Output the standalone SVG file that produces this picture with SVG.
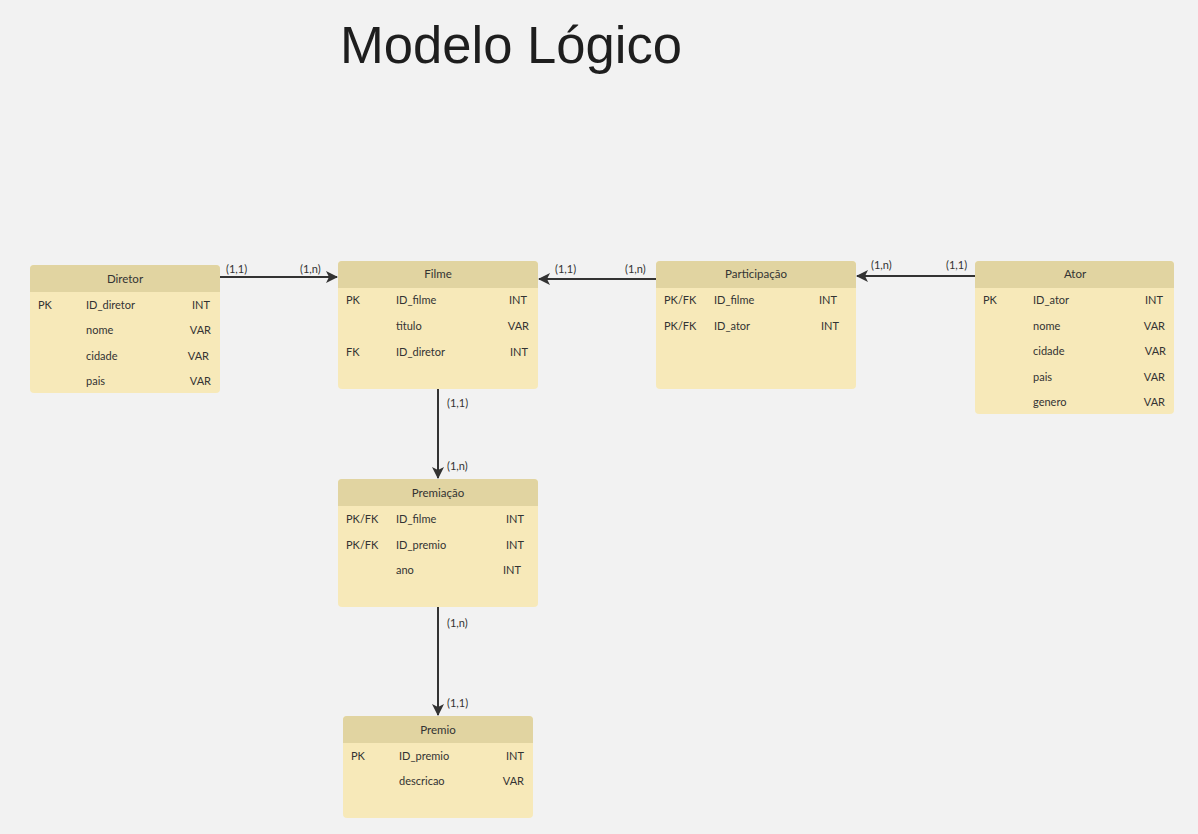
<svg xmlns="http://www.w3.org/2000/svg" width="1198" height="834" viewBox="0 0 1198 834">
<defs>
<style>
.bg{fill:#f2f2f2}
.body{fill:#f7e9b9}
.head{fill:#e1d4a1}
.t{font-family:Lato,"Open Sans",sans-serif;font-size:11px;fill:#333}
.h{font-family:Lato,"Open Sans",sans-serif;font-size:11.5px;fill:#333;text-anchor:middle}
.r{text-anchor:end}
.lbl{font-family:Lato,"Open Sans",sans-serif;font-size:11px;fill:#333}
.c{stroke:#333;stroke-width:2;fill:none}
.title{font-family:"Liberation Sans",Arial,sans-serif;font-size:52.6px;fill:#1e1e1e}
</style>
<marker id="arr" markerWidth="12" markerHeight="12" viewBox="0 0 12 12" refX="11" refY="6" orient="auto" markerUnits="userSpaceOnUse">
<path d="M0,0 L12,6 L0,12 L3,6 Z" fill="#333"/>
</marker>
</defs>
<rect class="bg" x="0" y="0" width="1198" height="834"/>
<text class="title" x="340" y="63" textLength="342" lengthAdjust="spacingAndGlyphs">Modelo Lógico</text>

<g id="connectors">
<line class="c" x1="220" y1="277" x2="337" y2="277" marker-end="url(#arr)"/>
<line class="c" x1="656" y1="279" x2="539" y2="279" marker-end="url(#arr)"/>
<line class="c" x1="975" y1="276" x2="857" y2="276" marker-end="url(#arr)"/>
<line class="c" x1="438" y1="389" x2="438" y2="478" marker-end="url(#arr)"/>
<line class="c" x1="438" y1="607" x2="438" y2="715" marker-end="url(#arr)"/>
<text class="lbl" x="226" y="273">(1,1)</text>
<text class="lbl" x="300" y="273">(1,n)</text>
<text class="lbl" x="555" y="273">(1,1)</text>
<text class="lbl" x="625" y="273">(1,n)</text>
<text class="lbl" x="871" y="269">(1,n)</text>
<text class="lbl" x="946" y="269">(1,1)</text>
<text class="lbl" x="447" y="407">(1,1)</text>
<text class="lbl" x="447" y="470">(1,n)</text>
<text class="lbl" x="447" y="627">(1,n)</text>
<text class="lbl" x="447" y="707">(1,1)</text>
</g>

<g id="diretor">
<rect class="body" x="30" y="265" width="190" height="128" rx="4"/>
<path class="head" d="M30,292 V269 Q30,265 34,265 H216 Q220,265 220,269 V292 Z"/>
<text class="h" x="125" y="283">Diretor</text>
<text class="t" x="38" y="309">PK</text><text class="t" x="86" y="309">ID_diretor</text><text class="t r" x="210" y="309">INT</text>
<text class="t" x="86" y="334">nome</text><text class="t r" x="211" y="334">VAR</text>
<text class="t" x="86" y="360">cidade</text><text class="t r" x="209" y="360">VAR</text>
<text class="t" x="86" y="385">pais</text><text class="t r" x="211" y="385">VAR</text>
</g>

<g id="filme">
<rect class="body" x="338" y="261" width="200" height="128" rx="4"/>
<path class="head" d="M338,288 V265 Q338,261 342,261 H534 Q538,261 538,265 V288 Z"/>
<text class="h" x="438" y="278">Filme</text>
<text class="t" x="346" y="304">PK</text><text class="t" x="396" y="304">ID_filme</text><text class="t r" x="527" y="304">INT</text>
<text class="t" x="396" y="330">titulo</text><text class="t r" x="529" y="330">VAR</text>
<text class="t" x="346" y="356">FK</text><text class="t" x="396" y="356">ID_diretor</text><text class="t r" x="528" y="356">INT</text>
</g>

<g id="participacao">
<rect class="body" x="656" y="261" width="200" height="128" rx="4"/>
<path class="head" d="M656,288 V265 Q656,261 660,261 H852 Q856,261 856,265 V288 Z"/>
<text class="h" x="756" y="278">Participação</text>
<text class="t" x="664" y="304">PK/FK</text><text class="t" x="714" y="304">ID_filme</text><text class="t r" x="837" y="304">INT</text>
<text class="t" x="664" y="330">PK/FK</text><text class="t" x="714" y="330">ID_ator</text><text class="t r" x="839" y="330">INT</text>
</g>

<g id="ator">
<rect class="body" x="975" y="261" width="199" height="153" rx="4"/>
<path class="head" d="M975,288 V265 Q975,261 979,261 H1170 Q1174,261 1174,265 V288 Z"/>
<text class="h" x="1075" y="278">Ator</text>
<text class="t" x="983" y="304">PK</text><text class="t" x="1033" y="304">ID_ator</text><text class="t r" x="1163" y="304">INT</text>
<text class="t" x="1033" y="330">nome</text><text class="t r" x="1165" y="330">VAR</text>
<text class="t" x="1033" y="355">cidade</text><text class="t r" x="1166" y="355">VAR</text>
<text class="t" x="1033" y="381">pais</text><text class="t r" x="1165" y="381">VAR</text>
<text class="t" x="1033" y="406">genero</text><text class="t r" x="1165" y="406">VAR</text>
</g>

<g id="premiacao">
<rect class="body" x="338" y="479" width="200" height="128" rx="4"/>
<path class="head" d="M338,506 V483 Q338,479 342,479 H534 Q538,479 538,483 V506 Z"/>
<text class="h" x="438" y="497">Premiação</text>
<text class="t" x="346" y="523">PK/FK</text><text class="t" x="396" y="523">ID_filme</text><text class="t r" x="524" y="523">INT</text>
<text class="t" x="346" y="549">PK/FK</text><text class="t" x="396" y="549">ID_premio</text><text class="t r" x="524" y="549">INT</text>
<text class="t" x="396" y="574">ano</text><text class="t r" x="521" y="574">INT</text>
</g>

<g id="premio">
<rect class="body" x="343" y="716" width="190" height="102" rx="4"/>
<path class="head" d="M343,743 V720 Q343,716 347,716 H529 Q533,716 533,720 V743 Z"/>
<text class="h" x="438" y="734">Premio</text>
<text class="t" x="351" y="760">PK</text><text class="t" x="399" y="760">ID_premio</text><text class="t r" x="524" y="760">INT</text>
<text class="t" x="399" y="785">descricao</text><text class="t r" x="524" y="785">VAR</text>
</g>
</svg>
